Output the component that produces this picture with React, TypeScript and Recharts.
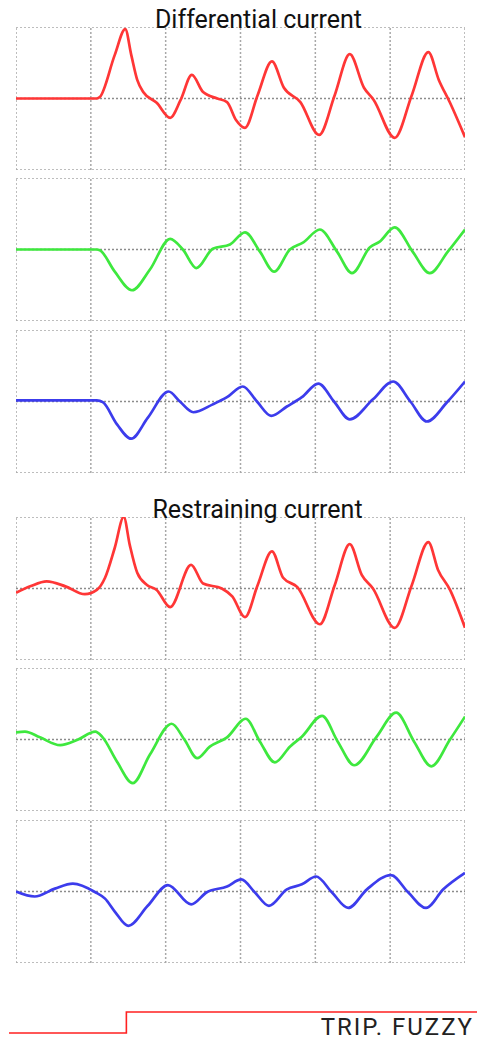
import React from "react";
import { LineChart, Line, XAxis, YAxis, ReferenceLine } from "recharts";

// time axis (6 divisions of 10 units)
const gridX = [0, 10, 20, 30, 40, 50, 60];
const gridY = [-10, 0, 10];

// Differential current
const diffRedT = [0, 10.8, 11.2, 13.2, 14.6, 15.4, 16.2, 17.0, 18.8, 20.6, 22.0, 23.5, 25.0, 26.9, 28.2, 29.4, 30.6, 32.3, 34.2, 35.8, 38.0, 40.5, 42.6, 44.6, 46.5, 47.8, 50.6, 52.9, 55.1, 56.5, 58.0, 60];
const diffRedV = [0, 0, 0.2, 6.1, 9.7, 6.1, 2.6, 0.9, -0.6, -2.7, -0.2, 3.3, 0.9, 0, -0.5, -3.0, -4.1, 0.5, 5.2, 1.5, -0.5, -5.1, 0.5, 6.2, 1.5, -0.2, -5.5, 0.5, 6.5, 2.6, -0.6, -5.4];

const diffGreenT = [0, 10.8, 11.2, 13.2, 15.5, 17.9, 20.6, 22.3, 24.1, 26.3, 28.6, 30.6, 32.6, 34.5, 36.6, 38.4, 40.6, 42.9, 44.9, 47.3, 48.6, 50.6, 53.0, 55.3, 57.7, 60];
const diffGreenV = [0, 0, -0.1, -3.1, -5.7, -2.8, 1.5, 0, -2.6, 0.1, 0.7, 2.4, -0.3, -3.1, 0, 1.0, 2.8, -0.3, -3.3, 0.3, 1.1, 3.1, -0.3, -3.3, -0.3, 2.8];

const diffBlueT = [0, 10.8, 11.6, 13.5, 15.4, 17.6, 20.4, 21.9, 23.7, 26.3, 28.2, 30.3, 32.2, 34.1, 36.2, 38.2, 40.4, 42.5, 44.6, 47.7, 50.4, 52.7, 54.9, 57.6, 60];
const diffBlueV = [0.15, 0.15, -0.1, -3.2, -5.2, -2.3, 1.4, 0, -1.5, -0.4, 0.6, 2.1, 0, -2.0, -0.7, 0.6, 2.5, 0, -2.5, 0.3, 2.8, 0, -2.8, -0.1, 2.8];

// Restraining current
const restRedT = [0, 1.9, 4.1, 6.6, 9.2, 10.8, 11.9, 13.2, 14.4, 15.2, 16.2, 17.5, 18.8, 20.6, 23.4, 25.0, 27.5, 28.9, 30.6, 32.3, 34.2, 35.7, 37.6, 40.6, 42.6, 44.6, 46.2, 47.7, 50.6, 52.9, 55.1, 56.4, 58.0, 60];
const restRedV = [-0.6, 0.3, 1.0, 0.3, -0.8, -0.2, 1.5, 5.7, 10, 6.1, 2.2, 0.5, -0.2, -2.6, 3.3, 0.7, 0, -1.1, -4.0, 0.5, 5.2, 1.5, 0.2, -5.0, 0.5, 6.2, 1.9, 0, -5.5, 0.5, 6.5, 2.6, -0.2, -5.5];

const restGreenT = [0, 1.2, 3.2, 5.9, 8.3, 10.6, 11.5, 13.5, 15.6, 17.9, 20.8, 22.5, 24.2, 25.9, 28.2, 30.7, 32.6, 34.6, 36.6, 38.2, 40.9, 43.0, 45.2, 48.2, 50.8, 53.2, 55.5, 58.0, 60];
const restGreenV = [1.0, 1.1, 0.3, -0.8, 0, 1.1, 0.4, -3.1, -6.1, -2.1, 2.2, 0, -2.6, -1.0, 0.3, 2.9, -0.3, -3.2, -1.0, 0.4, 3.3, -0.3, -3.6, 0.4, 3.75, -0.3, -3.75, 0, 3.2];

const restBlueT = [0, 2.5, 5.2, 7.6, 10.6, 11.9, 13.2, 15.0, 17.6, 20.3, 23.4, 25.5, 28.2, 30.1, 31.9, 33.8, 36.2, 38.2, 40.1, 42.2, 44.4, 46.9, 50.1, 52.4, 54.8, 57.1, 60];
const restBlueV = [0, -0.7, 0.4, 1.1, -0.1, -1.0, -2.8, -4.8, -2.0, 0.9, -1.8, -0.1, 0.7, 1.7, -0.1, -2.0, 0.3, 1.0, 2.1, -0.1, -2.3, 0.3, 2.3, -0.1, -2.3, 0.3, 2.6];

// trip signal
const tripT = [-1, 14.7, 61.6];
const tripV = [0, 1, 1];

const titles = ["Differential current", "Restraining current"];
const tripLabel = "TRIP. FUZZY";

const RED = "#ff3636";
const GREEN = "#3ee83e";
const BLUE = "#3c3cec";

const toRows = (t: number[], v: number[]) => t.map((x, i) => ({ t: x, v: v[i] }));

const PW = 449;
const PH = 143;
const PLEFT = 16;

function Panel({ top, t, v, color }: { top: number; t: number[]; v: number[]; color: string }) {
  const data = toRows(t, v);
  return (
    <div style={{ position: "absolute", left: PLEFT, top, width: PW, height: PH }}>
      <LineChart width={PW} height={PH} data={data} margin={{ top: 0, right: 0, bottom: 0, left: 0 }}>
        <XAxis dataKey="t" type="number" domain={[0, 60]} hide />
        <YAxis type="number" domain={[-10, 10]} hide />
        {gridX.map((x) => (
          <ReferenceLine key={"x" + x} x={x} stroke="#a8a8a8" strokeDasharray="2 2" strokeWidth={1.5} />
        ))}
        {gridY.map((y) => (
          <ReferenceLine
            key={"y" + y}
            y={y}
            stroke={y === 0 ? "#8c8c8c" : "#a8a8a8"}
            strokeDasharray="2 2"
            strokeWidth={1.5}
          />
        ))}
        <Line
          dataKey="v"
          type="monotone"
          stroke={color}
          strokeWidth={2.7}
          dot={false}
          isAnimationActive={false}
        />
      </LineChart>
    </div>
  );
}

export default function App() {
  const tripData = toRows(tripT, tripV);
  return (
    <div style={{ position: "absolute", left: 0, top: 0, width: 477, height: 1042, background: "#fff", overflow: "hidden" }}>
      <Panel top={27} t={diffRedT} v={diffRedV} color={RED} />
      <Panel top={178} t={diffGreenT} v={diffGreenV} color={GREEN} />
      <Panel top={330} t={diffBlueT} v={diffBlueV} color={BLUE} />
      <Panel top={517} t={restRedT} v={restRedV} color={RED} />
      <Panel top={668} t={restGreenT} v={restGreenV} color={GREEN} />
      <Panel top={820} t={restBlueT} v={restBlueV} color={BLUE} />

      <div style={{ position: "absolute", left: 9, top: 1007, width: 468, height: 31 }}>
        <LineChart width={468} height={31} data={tripData} margin={{ top: 5, right: 0, bottom: 5, left: 0 }}>
          <XAxis dataKey="t" type="number" domain={[-1, 61.6]} hide />
          <YAxis type="number" domain={[0, 1]} hide />
          <Line dataKey="v" type="stepAfter" stroke="#ff2020" strokeWidth={1.6} dot={false} isAnimationActive={false} />
        </LineChart>
      </div>

      <svg
        width={477}
        height={1042}
        style={{ position: "absolute", left: 0, top: 0, pointerEvents: "none" }}
      >
        <text x={258.5} y={28} textAnchor="middle" fontFamily="Roboto" fontSize={25} fill="#111">
          {titles[0]}
        </text>
        <text x={257.5} y={518} textAnchor="middle" fontFamily="Roboto" fontSize={25} fill="#111">
          {titles[1]}
        </text>
        <text x={474} y={1035} textAnchor="end" fontFamily="Roboto" fontSize={24} fill="#222" letterSpacing={2}>
          {tripLabel}
        </text>
      </svg>
    </div>
  );
}
